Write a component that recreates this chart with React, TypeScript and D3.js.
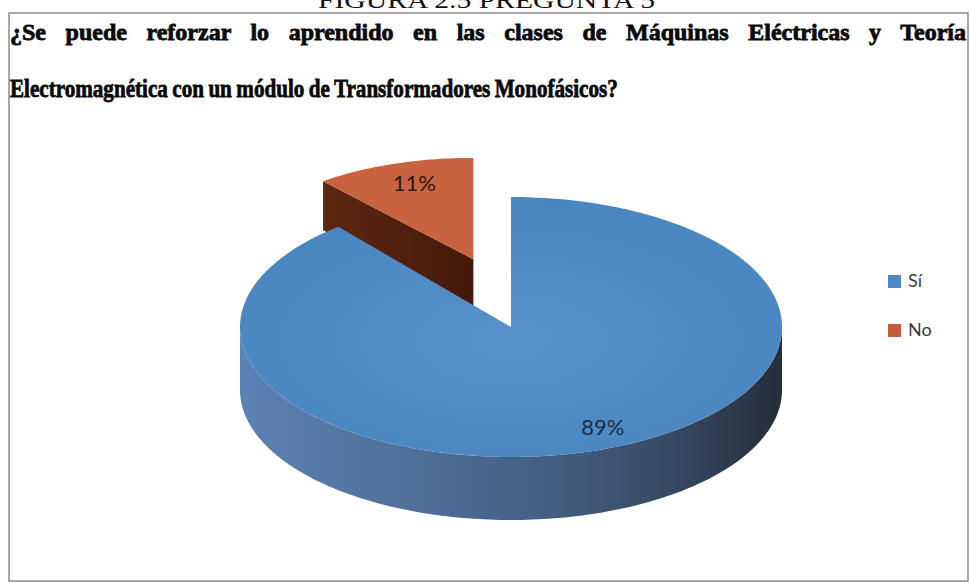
import * as d3 from "d3";
import React, { useEffect, useRef } from "react";

const categories = ["Sí", "No"];
const values = [89, 11];
const percentLabels = ["89%", "11%"];
const topColors = ["#4e8ac4", "#c9623f"];
const legendColors = ["#4f88c2", "#c65a3c"];
const exploded = [0, 1];

const headerText = "FIGURA 2.5 PREGUNTA 5";
const titleLines = [
  "¿Se puede reforzar lo aprendido en las clases de Máquinas Eléctricas y Teoría",
  "Electromagnética con un módulo de Transformadores Monofásicos?",
];

// main pie ellipse
const CX = 511;
const CY = 327;
const RX = 271;
const RY = 130;
const DEPTH = 63;

// exploded slice sits farther back, so it is drawn smaller
const EXPLODE = 0.41;
const LIFT = 1.35;
const BACK_SX = 0.87;
const BACK_SY = 0.78;

const LABEL_FX = [1.0, 0.74];
const LABEL_FY = [0.82, 0.8];

function App() {
  const svgRef = useRef<SVGSVGElement>(null);

  useEffect(() => {
    const svg = d3.select(svgRef.current);
    svg.selectAll("*").remove();
    const defs = svg.append("defs");

    const wall = defs
      .append("linearGradient")
      .attr("id", "wallBlue")
      .attr("x1", 0)
      .attr("x2", 1)
      .attr("y1", 0)
      .attr("y2", 0);
    [
      [0, "#5b83b4"],
      [0.25, "#52739f"],
      [0.55, "#466085"],
      [0.8, "#364962"],
      [1, "#252e3a"],
    ].forEach(([o, c]) => wall.append("stop").attr("offset", o).attr("stop-color", c));

    const face = defs
      .append("linearGradient")
      .attr("id", "faceRed")
      .attr("x1", 0)
      .attr("x2", 1)
      .attr("y1", 0)
      .attr("y2", 0);
    [
      [0, "#5e2712"],
      [1, "#45190b"],
    ].forEach(([o, c]) => face.append("stop").attr("offset", o).attr("stop-color", c));

    const topGrad = defs
      .append("radialGradient")
      .attr("id", "topBlue")
      .attr("cx", 0.5)
      .attr("cy", 0.55)
      .attr("r", 0.6);
    [
      [0, "#5592cb"],
      [1, "#4985bf"],
    ].forEach(([o, c]) => topGrad.append("stop").attr("offset", o).attr("stop-color", c));

    // frame
    svg
      .append("rect")
      .attr("x", 9)
      .attr("y", 13)
      .attr("width", 959)
      .attr("height", 568)
      .attr("fill", "none")
      .attr("stroke", "#8c8c8c")
      .attr("stroke-width", 1.5);

    // cut-off caption above the frame
    svg
      .append("text")
      .attr("x", 318)
      .attr("y", 8)
      .attr("textLength", 337)
      .attr("lengthAdjust", "spacingAndGlyphs")
      .attr("font-family", "'Liberation Serif', serif")
      .attr("font-size", 24)
      .attr("fill", "#111")
      .text(headerText);

    // title: first line justified, second line condensed
    const titleFont = {
      "font-family": "'Liberation Serif', 'Times New Roman', serif",
      "font-weight": "bold",
    };
    const t2 = svg.append("text").attr("x", 0).attr("y", 0).attr("font-size", 26).text(titleLines[1]);
    const t1 = svg.append("text").attr("x", 0).attr("y", 0).attr("font-size", 24).text(titleLines[0]);
    [t1, t2].forEach((t) => {
      Object.entries(titleFont).forEach(([k, v]) => t.attr(k, v));
      t.attr("fill", "#0a0a0a").attr("stroke", "#0a0a0a").attr("stroke-width", 0.8);
    });
    t2.attr("word-spacing", -1);
    const w2 = (t2.node() as SVGTextElement).getComputedTextLength();
    const sx2 = 608 / w2;
    t2.attr("transform", `translate(10,97) scale(${sx2},1)`);
    const w1 = (t1.node() as SVGTextElement).getComputedTextLength();
    const gaps = titleLines[0].split(" ").length - 1;
    t1.attr("word-spacing", (956 - w1) / gaps).attr("transform", `translate(10,40)`);

    const arcs = d3
      .pie<number>()
      .sort(null)
      .value((d) => d)(values);

    const geom = arcs.map((a, i) => {
      const mid = (a.startAngle + a.endAngle) / 2;
      const e = exploded[i] * EXPLODE;
      const back = exploded[i] ? 1 : 0;
      return {
        cx: CX + e * RX * Math.sin(mid),
        cy: CY - e * RY * LIFT * Math.cos(mid),
        rx: RX * (back ? BACK_SX : 1),
        ry: RY * (back ? BACK_SY : 1),
        depth: DEPTH * (back ? BACK_SY : 1),
      };
    });

    type G = (typeof geom)[number];
    const pt = (g: G, ang: number, dz = 0): [number, number] => [
      g.cx + g.rx * Math.sin(ang),
      g.cy - g.ry * Math.cos(ang) + dz,
    ];
    const sample = (a0: number, a1: number) => {
      const n = Math.max(2, Math.ceil(Math.abs(a1 - a0) / 0.02));
      return d3.range(n + 1).map((k) => a0 + ((a1 - a0) * k) / n);
    };
    const line = d3.line().curve(d3.curveLinearClosed);

    // back slices first
    const order = d3.range(arcs.length).sort((a, b) => exploded[b] - exploded[a]);

    order.forEach((i) => {
      const a = arcs[i];
      const g = geom[i];
      const grp = svg.append("g").attr("class", `slice-${i}`);

      // outer wall facing the viewer
      const w0 = Math.max(a.startAngle, Math.PI / 2);
      const w1a = Math.min(a.endAngle, (3 * Math.PI) / 2);
      if (w1a > w0) {
        const top = sample(w0, w1a).map((ang) => pt(g, ang));
        const bot = sample(w0, w1a)
          .reverse()
          .map((ang) => pt(g, ang, g.depth));
        grp
          .append("path")
          .attr("d", line([...top, ...bot]))
          .attr("fill", "url(#wallBlue)");
      }

      // radial face at start angle, visible when it looks down-left
      if (Math.cos(a.startAngle) > 0 && Math.sin(a.startAngle) < 0 && exploded[i]) {
        const r = pt(g, a.startAngle);
        const poly: [number, number][] = [
          [g.cx, g.cy],
          r,
          [r[0], r[1] + g.depth],
          [g.cx, g.cy + g.depth],
        ];
        grp.append("path").attr("d", line(poly)).attr("fill", "url(#faceRed)");
      }

      const topPts: [number, number][] = [
        [g.cx, g.cy],
        ...sample(a.startAngle, a.endAngle).map((ang) => pt(g, ang)),
      ];
      grp
        .append("path")
        .attr("d", line(topPts))
        .attr("fill", i === 0 ? "url(#topBlue)" : topColors[i]);
    });

    // percent labels
    arcs.forEach((a, i) => {
      const g = geom[i];
      const mid = (a.startAngle + a.endAngle) / 2;
      svg
        .append("text")
        .attr("x", g.cx + LABEL_FX[i] * g.rx * Math.sin(mid))
        .attr("y", g.cy - LABEL_FY[i] * g.ry * Math.cos(mid))
        .attr("dy", "0.35em")
        .attr("text-anchor", "middle")
        .attr("font-family", "Lato, 'Noto Sans', sans-serif")
        .attr("font-size", 22)
        .attr("fill", i === 0 ? "#1d2c4a" : "#2a1a12")
        .text(percentLabels[i]);
    });

    // legend
    const legendY = d3.scalePoint<string>().domain(categories).range([281, 330]);
    const legend = svg
      .append("g")
      .selectAll("g")
      .data(categories)
      .join("g")
      .attr("transform", (d) => `translate(888,${legendY(d)})`);
    legend
      .append("rect")
      .attr("x", 0)
      .attr("y", -6)
      .attr("width", 13)
      .attr("height", 13)
      .attr("fill", (_, i) => legendColors[i]);
    legend
      .append("text")
      .attr("x", 20)
      .attr("y", 6)
      .attr("font-family", "Lato, 'Noto Sans', sans-serif")
      .attr("font-size", 18)
      .attr("fill", "#3a3a3a")
      .text((d) => d);
  }, []);

  return (
    <div style={{ position: "absolute", left: 0, top: 0, width: 970, height: 583, background: "#fff" }}>
      <svg ref={svgRef} width={970} height={583} />
    </div>
  );
}

export default App;
